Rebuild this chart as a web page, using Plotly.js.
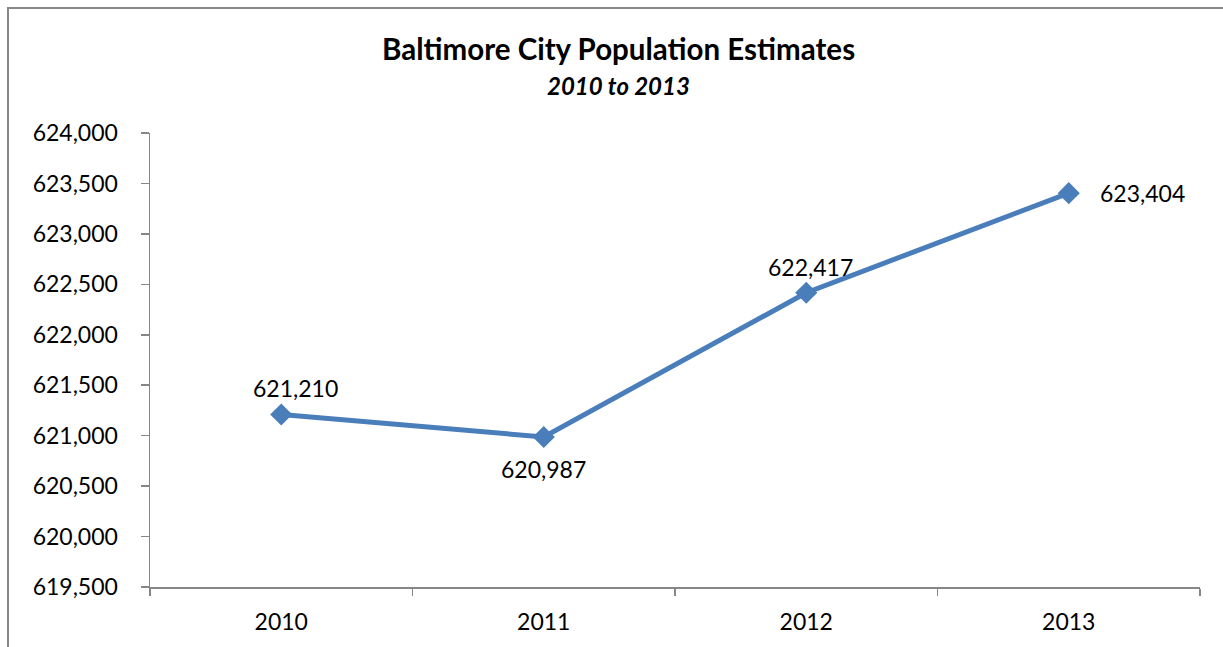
<!DOCTYPE html>
<html>
<head>
<meta charset="utf-8">
<script src="https://cdn.plot.ly/plotly-3.0.1.min.js"></script>
<style>
html,body{margin:0;padding:0;background:#fff;}
#chart{width:1223px;height:647px;}
</style>
</head>
<body>
<div id="chart"></div>
<script>
const years = ['2010', '2011', '2012', '2013'];
const population = [621210, 620987, 622417, 623404];
const yTickVals = [619500, 620000, 620500, 621000, 621500, 622000, 622500, 623000, 623500, 624000];

const W = 1223, H = 647;
const M = {l: 150, r: 23, t: 133, b: 60};
const pw = W - M.l - M.r, ph = H - M.t - M.b;
const px = v => (v - M.l) / pw;
const py = v => (H - M.b - v) / ph;

const fmt = v => v.toLocaleString('en-US');
const labelOffsets = [[14, 26], [0, -32], [4, 26], [74, 0]];

const annotations = population.map((v, i) => ({
  x: i, y: v, xref: 'x', yref: 'y',
  text: fmt(v), showarrow: false,
  xanchor: 'center', yanchor: 'middle',
  xshift: labelOffsets[i][0], yshift: labelOffsets[i][1],
  font: {family: 'Lato, Calibri, sans-serif', size: 23, color: '#000'}
}));

annotations.push({
  xref: 'paper', yref: 'paper', x: px(618), y: py(49),
  xanchor: 'center', yanchor: 'middle',
  text: '<b>Baltimore City Population Estimates</b>', showarrow: false,
  font: {family: 'Lato, Calibri, sans-serif', size: 29.5, color: '#000'}
});
annotations.push({
  xref: 'paper', yref: 'paper', x: px(618), y: py(85),
  xanchor: 'center', yanchor: 'middle',
  text: '<b><i>2010 to 2013</i></b>', showarrow: false,
  font: {family: 'Lato, Calibri, sans-serif', size: 24, color: '#000'}
});

const trace = {
  x: years, y: population, type: 'scatter', mode: 'lines+markers',
  line: {color: '#4A7EBB', width: 5},
  marker: {symbol: 'diamond', size: 17, color: '#4A7EBB'},
  cliponaxis: false, hoverinfo: 'none'
};

const layout = {
  width: W, height: H,
  margin: M,
  paper_bgcolor: '#fff', plot_bgcolor: '#fff',
  showlegend: false,
  xaxis: {
    type: 'category', range: [-0.5, 3.5], tickson: 'boundaries',
    showgrid: false, zeroline: false, showline: true, linecolor: '#868686', linewidth: 1.5,
    ticks: 'outside', ticklen: 7, tickcolor: '#868686', tickwidth: 1.5,
    tickfont: {family: 'Lato, Calibri, sans-serif', size: 23, color: '#000'},
    ticklabelstandoff: 14
  },
  yaxis: {
    range: [619500, 624000], tickvals: yTickVals, ticktext: yTickVals.map(fmt),
    showgrid: false, zeroline: false, showline: true, linecolor: '#868686', linewidth: 1.5,
    ticks: 'outside', ticklen: 8, tickcolor: '#868686', tickwidth: 1.5,
    tickfont: {family: 'Lato, Calibri, sans-serif', size: 23, color: '#000'},
    ticklabelstandoff: 18
  },
  annotations: annotations,
  shapes: [{
    type: 'path', xref: 'paper', yref: 'paper',
    path: `M ${px(8)} ${py(660)} L ${px(8)} ${py(8)} L ${px(1240)} ${py(8)}`,
    line: {color: '#878787', width: 2}
  }]
};

Plotly.newPlot('chart', [trace], layout, {staticPlot: true});
</script>
</body>
</html>
